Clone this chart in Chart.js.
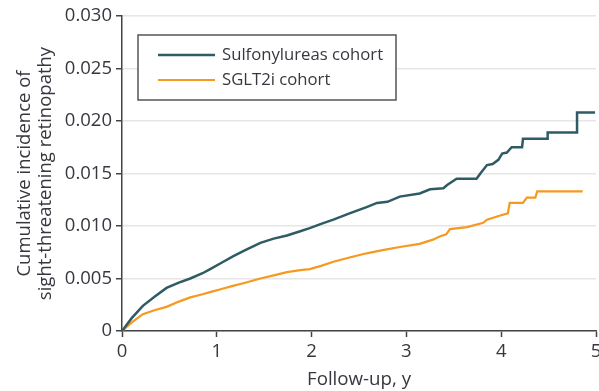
<!DOCTYPE html>
<html>
<head>
<meta charset="utf-8">
<script src="https://cdn.jsdelivr.net/npm/chart.js@4.4.1/dist/chart.umd.min.js"></script>
<style>
  html, body { margin: 0; padding: 0; background: #fff; }
  #wrap { width: 599px; height: 391px; }
</style>
</head>
<body>
<div id="wrap"><canvas id="km"></canvas></div>
<script>
// follow-up time (years) and cumulative incidence for each cohort
var suYears = [0, 0.10, 0.22, 0.35, 0.47, 0.60, 0.72, 0.85, 0.93, 1.05, 1.17, 1.30, 1.46, 1.60, 1.74, 1.88, 1.98,
  2.10, 2.23, 2.40, 2.58, 2.69, 2.80, 2.93, 3.14, 3.25, 3.39, 3.43, 3.53, 3.74, 3.78, 3.85, 3.91, 3.97,
  4.01, 4.06, 4.11, 4.22, 4.23, 4.49, 4.49, 4.80, 4.80, 4.99];
var suIncidence = [0, 0.0012, 0.0024, 0.0033, 0.0041, 0.0046, 0.0050, 0.0055, 0.0059, 0.0065, 0.0071, 0.0077, 0.0084, 0.0088, 0.0091, 0.0095, 0.0098,
  0.0102, 0.0106, 0.0112, 0.0118, 0.0122, 0.0123, 0.0128, 0.0131, 0.0135, 0.0136, 0.0139, 0.0145, 0.0145, 0.0150, 0.0158, 0.0159, 0.0163,
  0.0169, 0.0170, 0.0175, 0.0175, 0.0183, 0.0183, 0.0189, 0.0189, 0.0208, 0.0208];

var sgYears = [0, 0.10, 0.22, 0.35, 0.47, 0.60, 0.72, 0.85, 0.93, 1.05, 1.17, 1.30, 1.46, 1.60, 1.74, 1.88, 1.98,
  2.10, 2.23, 2.40, 2.58, 2.75, 2.93, 3.14, 3.28, 3.35, 3.42, 3.46, 3.64, 3.81, 3.85, 3.99,
  4.07, 4.09, 4.23, 4.27, 4.36, 4.38, 4.86];
var sgIncidence = [0, 0.0008, 0.0016, 0.0020, 0.0023, 0.0028, 0.0032, 0.0035, 0.0037, 0.0040, 0.0043, 0.0046, 0.0050, 0.0053, 0.0056, 0.0058, 0.0059,
  0.0062, 0.0066, 0.0070, 0.0074, 0.0077, 0.0080, 0.0083, 0.0087, 0.0090, 0.0092, 0.0097, 0.0099, 0.0103, 0.0106, 0.0110,
  0.0112, 0.0122, 0.0122, 0.0127, 0.0127, 0.0133, 0.0133];

var xTicks = [0, 1, 2, 3, 4, 5];
var yTicks = [0, 0.005, 0.010, 0.015, 0.020, 0.025, 0.030];

var cohortNames = ['Sulfonylureas cohort', 'SGLT2i cohort'];
var cohortColors = ['#2f5b65', '#f7981f'];

var FONT = "'Open Sans', sans-serif";
var TEXT = '#37373f';

function toPoints(xs, ys) {
  return xs.map(function (x, i) { return { x: x, y: ys[i] }; });
}

// legend drawn inside the plot, top-left, with a framed box
var boxLegend = {
  id: 'boxLegend',
  afterDraw: function (chart) {
    var c = chart.ctx;
    var left = 138, top = 35, w = 258, h = 65;
    c.save();
    c.strokeStyle = '#555';
    c.lineWidth = 1.5;
    c.fillStyle = '#fff';
    c.fillRect(left, top, w, h);
    c.strokeRect(left, top, w, h);
    c.font = '500 16.7px ' + FONT;
    c.textBaseline = 'middle';
    chart.data.datasets.forEach(function (ds, i) {
      var y = top + 20 + i * 25;
      c.strokeStyle = ds.borderColor;
      c.lineWidth = ds.borderWidth;
      c.beginPath();
      c.moveTo(left + 20, y);
      c.lineTo(left + 77, y);
      c.stroke();
      c.fillStyle = TEXT;
      c.fillText(ds.label, left + 84, y);
    });
    c.restore();
  }
};

new Chart(document.getElementById('km'), {
  type: 'line',
  data: {
    datasets: [{
      label: cohortNames[0],
      data: toPoints(suYears, suIncidence),
      borderColor: cohortColors[0],
      borderWidth: 2.5,
      pointRadius: 0,
      tension: 0
    }, {
      label: cohortNames[1],
      data: toPoints(sgYears, sgIncidence),
      borderColor: cohortColors[1],
      borderWidth: 2.2,
      pointRadius: 0,
      tension: 0
    }]
  },
  options: {
    responsive: true,
    maintainAspectRatio: false,
    animation: false,
    layout: { padding: { top: 16, right: 3, left: 0, bottom: 0 } },
    plugins: {
      legend: { display: false },
      tooltip: { enabled: false }
    },
    scales: {
      x: {
        type: 'linear',
        min: 0,
        max: 5,
        afterBuildTicks: function (s) { s.ticks = xTicks.map(function (v) { return { value: v }; }); },
        afterFit: function (s) { s.height = 60; s.paddingLeft = 0; s.paddingRight = 0; },
        border: { color: '#444', width: 1.5 },
        grid: { drawOnChartArea: false, drawTicks: true, tickLength: 6, tickColor: '#444', tickWidth: 1.5 },
        ticks: { color: TEXT, font: { family: FONT, size: 18.5, weight: '500' }, padding: 4, maxRotation: 0 },
        title: { display: true, text: 'Follow-up, y', color: TEXT, font: { family: FONT, size: 18.7, weight: '500' }, padding: { top: 2, bottom: 0 } }
      },
      y: {
        min: 0,
        max: 0.030,
        afterBuildTicks: function (s) { s.ticks = yTicks.map(function (v) { return { value: v }; }); },
        afterFit: function (s) { s.width = 122; s.paddingTop = 0; s.paddingBottom = 0; },
        border: { color: '#444', width: 1.5 },
        grid: { color: '#e6e6e6', lineWidth: 1.5, drawTicks: true, tickLength: 6, tickColor: '#444', tickWidth: 1.5 },
        ticks: {
          color: TEXT,
          font: { family: FONT, size: 18.5, weight: '500' },
          padding: 4,
          callback: function (v) { return v === 0 ? '0' : v.toFixed(3); }
        },
        title: {
          display: true,
          text: ['Cumulative incidence of', 'sight-threatening retinopathy'],
          color: TEXT,
          font: { family: FONT, size: 18.5, lineHeight: 1.1, weight: '500' },
          padding: { top: 15, bottom: 0 }
        }
      }
    }
  },
  plugins: [boxLegend]
});
</script>
</body>
</html>
